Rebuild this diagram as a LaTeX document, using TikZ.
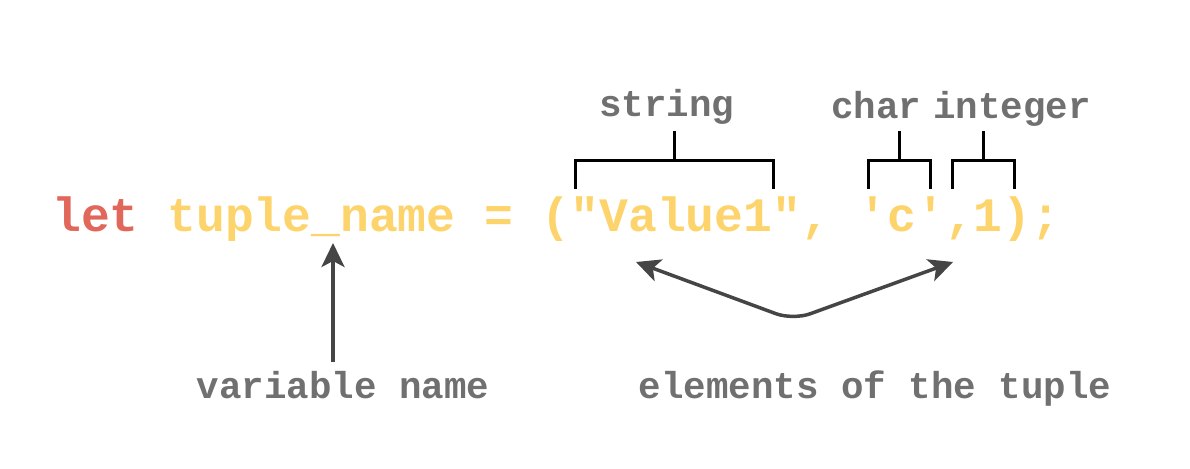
\documentclass[tikz,border=0pt]{standalone}
\usepackage{fontspec}
\newfontfamily\codefont{Liberation Mono}[Ligatures=TeXOff]
\usetikzlibrary{arrows.meta}
\definecolor{letred}{HTML}{E0675A}
\definecolor{codeyel}{HTML}{FDD46B}
\definecolor{lblgray}{HTML}{707070}
\definecolor{arrgray}{HTML}{454545}
\tikzset{
  codetxt/.style={anchor=base west, inner sep=0pt, font=\codefont\bfseries\fontsize{48}{48}\selectfont},
  lbl/.style={anchor=base, inner sep=0pt, text=lblgray, font=\codefont\bfseries\fontsize{37.5}{38}\selectfont},
  brk/.style={draw=black, line width=3pt, line cap=butt},
  arr/.style={draw=arrgray, line width=3.5pt, -{Stealth[length=24pt,width=23pt,inset=6pt]}},
  darr/.style={draw=arrgray, line width=3.5pt, {Stealth[length=24pt,width=23pt,inset=6pt]}-{Stealth[length=24pt,width=23pt,inset=6pt]}, rounded corners=18pt}
}
\begin{document}
\begin{tikzpicture}[x=1pt,y=-1pt]
\useasboundingbox (0,0) rectangle (1190,468);
% code line
\node[codetxt] (code) at (52,231) {\textcolor{letred}{let} \textcolor{codeyel}{tuple\_name = ("Value1", 'c',1);}};
% labels
\node[lbl] (string) at (667,117) {string};
\node[lbl] (char) at (876,118) {char};
\node[lbl] (integer) at (1012,118) {integer};
\node[lbl] (varname) at (343,398) {variable name};
\node[lbl] (elems) at (875,398) {elements of the tuple};
% brackets
\coordinate (s1) at (575,189); \coordinate (s2) at (773,189); \coordinate (sm) at (674,131);
\draw[brk] (s1) |- (sm |- 0,160) -| (s2);
\draw[brk] (sm) -- (sm |- 0,160);
\coordinate (c1) at (868,189); \coordinate (c2) at (930,189); \coordinate (cm) at (899,131);
\draw[brk] (c1) |- (cm |- 0,160) -| (c2);
\draw[brk] (cm) -- (cm |- 0,160);
\coordinate (i1) at (952,189); \coordinate (i2) at (1014,189); \coordinate (im) at (983,131);
\draw[brk] (i1) |- (im |- 0,160) -| (i2);
\draw[brk] (im) -- (im |- 0,160);
% arrows
\coordinate (vtip) at (333,243); \coordinate (vstart) at (333,362);
\draw[arr] (vstart) -- (vtip);
\coordinate (etl) at (636,262); \coordinate (etr) at (953,262); \coordinate (emid) at (793,320);
\draw[darr] (etl) -- (emid) -- (etr);
\end{tikzpicture}
\end{document}
